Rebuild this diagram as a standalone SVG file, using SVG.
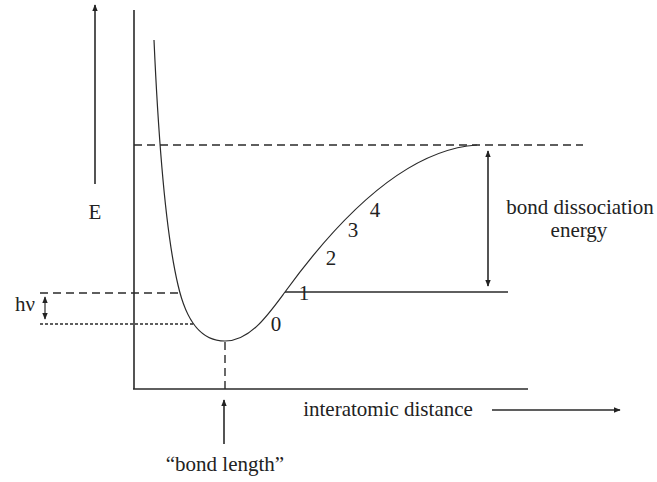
<svg xmlns="http://www.w3.org/2000/svg" width="657" height="482" viewBox="0 0 657 482">
<defs>
<marker id="ah" viewBox="0 0 10 10" refX="9" refY="5" markerWidth="7" markerHeight="7" markerUnits="userSpaceOnUse" orient="auto-start-reverse"><path d="M0,1 L10,5 L0,9 Z" fill="#222"/></marker>
</defs>
<style>
.ln{stroke:#2a2a2a;stroke-width:1.6;fill:none}
.th{stroke:#2a2a2a;stroke-width:1.2;fill:none}
.da{stroke:#2a2a2a;stroke-width:1.4;stroke-dasharray:8 5;fill:none}
.dt{stroke:#2a2a2a;stroke-width:1.4;stroke-dasharray:3 2;fill:none}
text{font-family:"Liberation Serif","Times New Roman",serif;font-size:21px;fill:#222}
</style>
<rect width="657" height="482" fill="#fff"/>
<g id="connectors">
<line class="ln" x1="95" y1="184" x2="95" y2="5" marker-end="url(#ah)"/>
<line class="ln" x1="134" y1="10" x2="134" y2="389"/>
<line class="ln" x1="133" y1="389" x2="528" y2="389"/>
<line class="da" x1="134" y1="145" x2="583" y2="145"/>
<line class="da" x1="40" y1="293" x2="180" y2="293"/>
<line class="dt" x1="40" y1="324" x2="193" y2="324"/>
<line class="ln" x1="285" y1="292" x2="508" y2="292"/>
<line class="da" x1="225" y1="342" x2="225" y2="389"/>
<line class="ln" x1="488" y1="151" x2="488" y2="286" marker-start="url(#ah)" marker-end="url(#ah)"/>
<line class="th" x1="45" y1="297" x2="45" y2="319" marker-start="url(#ah)" marker-end="url(#ah)"/>
<line class="ln" x1="224" y1="444" x2="224" y2="400" marker-end="url(#ah)"/>
<line class="ln" x1="492" y1="410" x2="620" y2="410" marker-end="url(#ah)"/>
<path class="th" d="M154,40 C158,130 165,230 178,285 C186,320 200,341 225,341 C250,341 268,315 285,292 C330,230 400,150 477,145"/>
</g>
<g id="labels">
<text x="95" y="219" text-anchor="middle">E</text>
<text x="25" y="311" text-anchor="middle">hν</text>
<text x="276" y="331" text-anchor="middle">0</text>
<text x="304" y="300" text-anchor="middle">1</text>
<text x="331" y="265" text-anchor="middle">2</text>
<text x="353" y="237" text-anchor="middle">3</text>
<text x="375" y="217" text-anchor="middle">4</text>
<text x="580" y="214" text-anchor="middle">bond dissociation</text>
<text x="579" y="237" text-anchor="middle">energy</text>
<text x="388" y="416" text-anchor="middle">interatomic distance</text>
<text x="225" y="471" text-anchor="middle">“bond length”</text>
</g>
</svg>
